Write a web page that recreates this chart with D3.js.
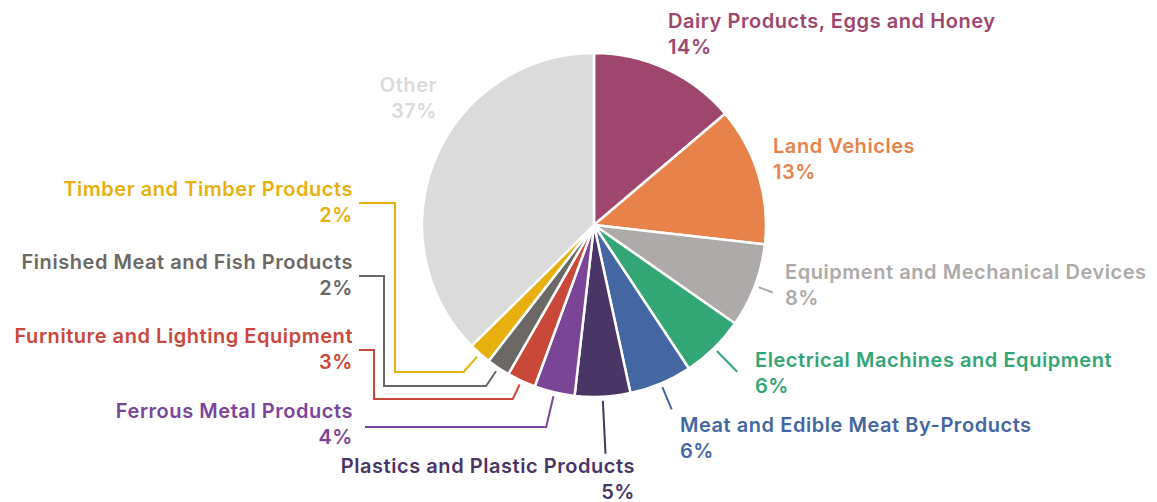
<!DOCTYPE html>
<html lang="en">
  <head>
    <meta charset="UTF-8" />
    <script src="https://d3js.org/d3.v7.min.js"></script>
    <title>Export composition</title>
    <style>
      body { margin: 0; background: #fff; }
      text { font-family: Inter, "Noto Sans", sans-serif; font-weight: 600; font-size: 20px; letter-spacing: 0.55px; }
    </style>
  </head>
  <body>
    <svg id="chart" width="1157" height="502"></svg>
  </body>
  <script>
    // data, clockwise from 12 o'clock
    var categories = [
      "Dairy Products, Eggs and Honey",
      "Land Vehicles",
      "Equipment and Mechanical Devices",
      "Electrical Machines and Equipment",
      "Meat and Edible Meat By-Products",
      "Plastics and Plastic Products",
      "Ferrous Metal Products",
      "Furniture and Lighting Equipment",
      "Finished Meat and Fish Products",
      "Timber and Timber Products",
      "Other"
    ];
    var values = [13.8, 13.0, 7.9, 6.0, 5.9, 5.2, 3.8, 2.7, 2.2, 2.1, 37.4];
    var colors = [
      "#9e466d", "#e8824b", "#aeaaa9", "#33a675", "#4467a4", "#4a3567",
      "#7b4597", "#c9483a", "#6b6866", "#e8b00d", "#dbdbdb"
    ];

    // label placement: [x, baseline, anchor, leader]
    // leader: null, {r2} radial tick, or {yLow, xElbow} for elbow lines
    var labelLayout = [
      [668, 28, "start", null],
      [773, 153, "start", null],
      [785, 279, "start", { r2: 191 }],
      [755, 367, "start", { r2: 205 }],
      [680, 432, "start", { r2: 200 }],
      [635, 473, "end", { r2: 229 }],
      [353, 418, "end", { yLow: 427, xElbow: null }],
      [353, 343, "end", { yLow: 399, xElbow: 374 }],
      [353, 269, "end", { yLow: 386, xElbow: 384 }],
      [353, 196, "end", { yLow: 372, xElbow: 395 }],
      [437, 92, "end", null]
    ];

    var svg = d3.select("#chart");
    var cx = 594, cy = 225, radius = 172;
    var lineGap = 25.5;

    var data = categories.map(function (c, i) {
      return { name: c, value: values[i], color: colors[i], layout: labelLayout[i] };
    });

    var pie = d3.pie().sort(null).value(function (d) { return d.value; });
    var arc = d3.arc().innerRadius(0).outerRadius(radius);
    var arcs = pie(data);

    var g = svg.append("g").attr("transform", "translate(" + cx + "," + cy + ")");

    g.selectAll("path.slice")
      .data(arcs)
      .enter()
      .append("path")
      .attr("class", "slice")
      .attr("d", arc)
      .attr("fill", function (d) { return d.data.color; })
      .attr("stroke", "#fff")
      .attr("stroke-width", 2.5)
      .attr("stroke-linejoin", "round");

    // leader lines
    var r1 = radius + 4;
    function leaderPoints(d) {
      var lay = d.data.layout, ld = lay[3];
      var a = (d.startAngle + d.endAngle) / 2;
      var sx = Math.sin(a), sy = -Math.cos(a);
      var pts = [[cx + r1 * sx, cy + r1 * sy]];
      if (ld.r2) {
        pts.push([cx + ld.r2 * sx, cy + ld.r2 * sy]);
      } else {
        var r2 = (ld.yLow - cy) / sy;
        pts.push([cx + r2 * sx, ld.yLow]);
        if (ld.xElbow) {
          pts.push([ld.xElbow, ld.yLow]);
          pts.push([ld.xElbow, lay[1] + 7]);
          pts.push([lay[0] + 6, lay[1] + 7]);
        } else {
          pts.push([lay[0] + 12, ld.yLow]);
        }
      }
      return pts;
    }

    svg.append("g")
      .selectAll("path")
      .data(arcs.filter(function (d) { return d.data.layout[3]; }))
      .enter()
      .append("path")
      .attr("d", function (d) { return d3.line()(leaderPoints(d)); })
      .attr("fill", "none")
      .attr("stroke", function (d) { return d.data.color; })
      .attr("stroke-width", 2);

    // labels
    var labels = svg.append("g")
      .selectAll("text")
      .data(arcs)
      .enter()
      .append("text")
      .attr("x", function (d) { return d.data.layout[0]; })
      .attr("y", function (d) { return d.data.layout[1]; })
      .attr("text-anchor", function (d) { return d.data.layout[2]; })
      .attr("fill", function (d) { return d.data.color; });

    labels.append("tspan").text(function (d) { return d.data.name; });
    labels.append("tspan")
      .attr("x", function (d) { return d.data.layout[0]; })
      .attr("dy", lineGap)
      .text(function (d) { return Math.round(d.data.value) + "%"; });
  </script>
</html>
